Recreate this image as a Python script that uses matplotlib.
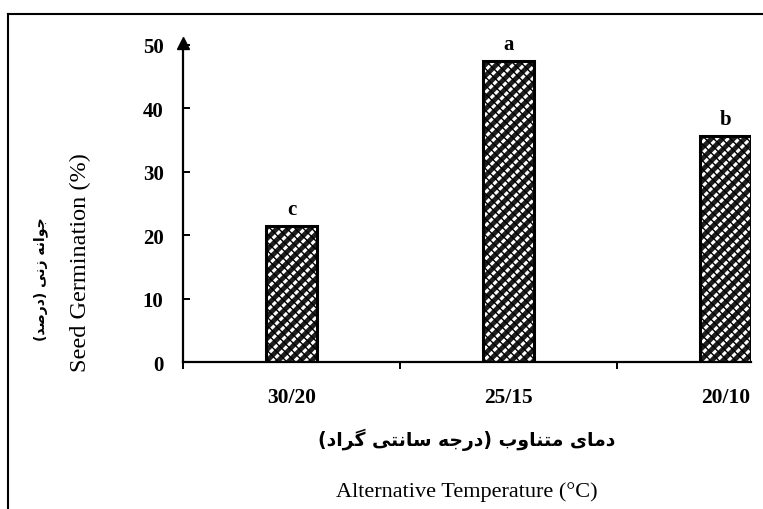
import matplotlib
matplotlib.use('Agg')
import matplotlib.pyplot as plt
from matplotlib.lines import Line2D

# data
temps = ['30/20', '25/15', '20/10']
germination = [21.4, 47.5, 35.6]
letters = ['c', 'a', 'b']
yticks = [0, 10, 20, 30, 40, 50]

ylabel_en = 'Seed Germination (%)'
ylabel_fa = 'جوانه زنی (درصد)'
xlabel_en = 'Alternative Temperature (°C)'
xlabel_fa = 'دمای متناوب (درجه سانتی گراد)'

# matplotlib does no arabic shaping, so do a small one by hand
# letter: (isolated, final, initial, medial)
FORMS = {
    'ا': ('\uFE8D', '\uFE8E', None, None),
    'ب': ('\uFE8F', '\uFE90', '\uFE91', '\uFE92'),
    'ت': ('\uFE95', '\uFE96', '\uFE97', '\uFE98'),
    'ج': ('\uFE9D', '\uFE9E', '\uFE9F', '\uFEA0'),
    'د': ('\uFEA9', '\uFEAA', None, None),
    'ر': ('\uFEAD', '\uFEAE', None, None),
    'ز': ('\uFEAF', '\uFEB0', None, None),
    'س': ('\uFEB1', '\uFEB2', '\uFEB3', '\uFEB4'),
    'ص': ('\uFEB9', '\uFEBA', '\uFEBB', '\uFEBC'),
    'م': ('\uFEE1', '\uFEE2', '\uFEE3', '\uFEE4'),
    'ن': ('\uFEE5', '\uFEE6', '\uFEE7', '\uFEE8'),
    'ه': ('\uFEE9', '\uFEEA', '\uFEEB', '\uFEEC'),
    'و': ('\uFEED', '\uFEEE', None, None),
    'ی': ('\uFBFC', '\uFBFD', '\uFBFE', '\uFBFF'),
    'گ': ('\uFB92', '\uFB93', '\uFB94', '\uFB95'),
}


def shape_fa(text):
    out = []
    for i, ch in enumerate(text):
        if ch not in FORMS:
            out.append(ch)
            continue
        iso, fin, ini, med = FORMS[ch]
        prev = text[i - 1] if i > 0 else ''
        nxt = text[i + 1] if i + 1 < len(text) else ''
        jp = prev in FORMS and FORMS[prev][2] is not None
        jn = ini is not None and nxt in FORMS
        if jp and jn:
            out.append(med)
        elif jp:
            out.append(fin)
        elif jn:
            out.append(ini)
        else:
            out.append(iso)
    s = ''.join(out)[::-1]
    return s.replace('(', '\0').replace(')', '(').replace('\0', ')')


serif = ['Liberation Serif', 'DejaVu Serif']
fa_font = ['DejaVu Sans']

fig = plt.figure(figsize=(7.63, 5.10), dpi=100)
ax = fig.add_axes([0.2398, 0.288, 0.7444, 0.622])

x = range(len(temps))
w = 0.235
# white slanted slots on dark, broken by thin black back-slashes
with plt.rc_context({'hatch.linewidth': 2.2}):
    ax.bar(x, germination, w, color='#1e1e1e', edgecolor='white', hatch='///', linewidth=0, zorder=2)
with plt.rc_context({'hatch.linewidth': 1.0}):
    ax.bar(x, germination, w, fill=False, edgecolor='black', hatch='\\\\\\\\', linewidth=0, zorder=3)
ax.bar(x, germination, w, fill=False, edgecolor='black', linewidth=2.2, zorder=4)

for xi, v, t in zip(x, germination, letters):
    ax.annotate(t, (xi, v), xytext=(0, 5), textcoords='offset points',
                ha='center', va='bottom', fontsize=15, fontweight='bold', family=serif)

ax.set_xlim(-0.5, 2 + w / 2)
ax.set_ylim(0, 50)
ax.set_yticks(yticks)
ax.set_yticklabels([str(t) for t in yticks], fontsize=15, fontweight='bold', family=serif)
ax.set_xticks(list(x))
ax.set_xticklabels(temps, fontsize=15.5, fontweight='bold', family=serif)
ax.set_xticks([-0.5, 0.5, 1.5], minor=True)

ax.tick_params(axis='y', direction='in', length=5, width=1.4, pad=14)
ax.tick_params(axis='x', which='major', length=0, pad=18)
ax.tick_params(axis='x', which='minor', direction='out', length=5, width=1.4)

for side in ['top', 'right']:
    ax.spines[side].set_visible(False)
for side in ['left', 'bottom']:
    ax.spines[side].set_linewidth(1.6)

# arrow head on top of the y axis
ax.plot([0], [1.005], marker='^', markersize=8, color='black',
        transform=ax.transAxes, clip_on=False)

fig.text(0.105, 0.486, ylabel_en, rotation=90, ha='center', va='center',
         fontsize=17.5, family=serif)
fig.text(0.053, 0.453, shape_fa(ylabel_fa), rotation=90, ha='center', va='center',
         fontsize=10, fontweight='bold', family=fa_font)
fig.text(0.612, 0.137, shape_fa(xlabel_fa), ha='center', va='center',
         fontsize=13.5, fontweight='bold', family=fa_font)
fig.text(0.612, 0.035, xlabel_en, ha='center', va='center',
         fontsize=16, family=serif)

# frame around the picture (left and top only are visible)
fig.add_artist(Line2D([0.0105, 0.0105], [0, 0.971], color='black', lw=1.5))
fig.add_artist(Line2D([0.0105, 1.0], [0.971, 0.971], color='black', lw=1.5))

fig.savefig('out.png', dpi=100)
